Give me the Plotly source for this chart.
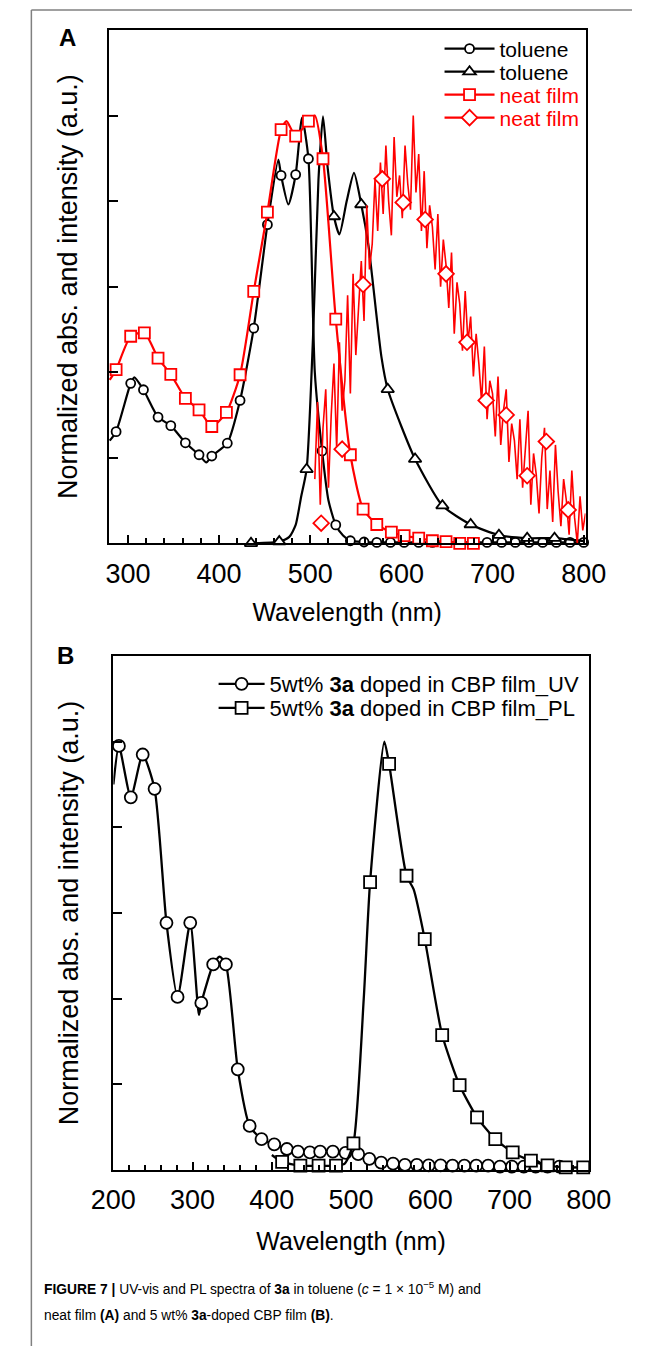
import plotly.graph_objects as go

# ================= Panel A data =================
# toluene absorption (circles) - marker points
tol_abs_x = [287, 303, 317, 333, 347, 363, 378, 392, 409, 423, 438, 453, 468, 484, 498, 513, 528,
             544, 559, 573, 588, 603, 619, 634, 649, 664, 679, 694, 710, 725, 740, 755, 770, 785, 800]
tol_abs_y = [0.261, 0.374, 0.359, 0.295, 0.275, 0.235, 0.207, 0.204, 0.234, 0.334, 0.503, 0.745, 0.860,
             0.862, 0.899, 0.216, 0.043, 0.006, 0.003, 0.002, 0.002, 0.002, 0.002, 0.002, 0.002, 0.002,
             0.002, 0.002, 0.002, 0.002, 0.002, 0.002, 0.002, 0.002, 0.002]
# extra points on the toluene absorption curve (peaks / dips)
tol_abs_ex = [280, 307, 386, 465, 476, 491, 505, 520, 536]
tol_abs_ey = [0.240, 0.388, 0.189, 0.897, 0.792, 0.995, 0.400, 0.100, 0.018]

# toluene PL (triangles)
tol_pl_x = [435, 466, 496, 526, 556, 585, 615, 645, 676, 707, 738, 768]
tol_pl_y = [0.000, 0.004, 0.173, 0.764, 0.792, 0.360, 0.197, 0.088, 0.044, 0.019, 0.012, 0.012]
tol_pl_ex = [477, 484, 490, 503, 509, 514, 519, 532, 540, 548, 564, 578, 600, 800]
tol_pl_ey = [0.015, 0.043, 0.109, 0.480, 0.850, 0.998, 0.880, 0.722, 0.800, 0.866, 0.694, 0.437, 0.273, 0.005]

# neat film absorption (squares)
film_abs_x = [287, 303, 318, 333, 347, 363, 378, 392, 408, 423, 438, 453, 468, 484, 498, 514, 528,
              544, 558, 573, 589, 603, 619, 634, 649, 664, 679]
film_abs_y = [0.406, 0.484, 0.492, 0.433, 0.395, 0.339, 0.312, 0.273, 0.306, 0.394, 0.589, 0.774, 0.967,
              0.952, 0.987, 0.899, 0.524, 0.207, 0.080, 0.044, 0.026, 0.018, 0.012, 0.006, 0.004, 0.000, 0.000]
film_abs_ex = [280, 474, 505]
film_abs_ey = [0.382, 0.987, 1.000]

# neat film PL (noisy trace) and its diamond markers
film_pl_x = [505, 508, 511, 514, 517, 520, 523, 526, 529, 532, 535, 538, 541, 544, 547, 550, 553, 556, 559, 562,
             565, 568, 571, 574, 577, 580, 583, 586, 589, 592, 595, 598, 601, 604, 607, 610, 613, 616, 619, 622,
             625, 628, 631, 634, 637, 640, 643, 646, 649, 652, 655, 658, 661, 664, 667, 670, 673, 676, 679, 682,
             685, 688, 691, 694, 697, 700, 703, 706, 709, 712, 715, 718, 721, 724, 727, 730, 733, 736, 739, 742,
             745, 748, 751, 754, 757, 760, 763, 766, 769, 772, 775, 778, 781, 784, 787, 790, 793, 796, 799, 802]
film_pl_y = [0.15, 0.33, 0.09, 0.27, 0.36, 0.13, 0.30, 0.42, 0.22, 0.47, 0.31, 0.38, 0.58, 0.35, 0.63, 0.44, 0.55, 0.66, 0.52, 0.79,
             0.64, 0.70, 0.85, 0.73, 0.89, 0.77, 0.93, 0.80, 0.72, 0.95, 0.81, 0.86, 0.76, 0.93, 0.84, 0.78, 1.00, 0.82, 0.91, 0.73,
             0.87, 0.69, 0.79, 0.74, 0.64, 0.77, 0.60, 0.71, 0.65, 0.55, 0.68, 0.49, 0.61, 0.56, 0.45, 0.59, 0.47, 0.53, 0.39, 0.49,
             0.42, 0.33, 0.46, 0.29, 0.38, 0.35, 0.25, 0.39, 0.23, 0.31, 0.36, 0.19, 0.28, 0.24, 0.15, 0.29, 0.13, 0.22, 0.31, 0.09,
             0.21, 0.16, 0.07, 0.20, 0.27, 0.08, 0.17, 0.05, 0.23, 0.12, 0.04, 0.15, 0.10, 0.02, 0.17, 0.06, 0.00, 0.11, 0.03, 0.07]
film_pl_mx = [512, 535, 558, 579, 602, 626, 649, 672, 693, 715, 738, 759, 783]
film_pl_my = [0.047, 0.220, 0.605, 0.852, 0.797, 0.757, 0.630, 0.470, 0.334, 0.300, 0.158, 0.238, 0.078]

# ================= Panel B data =================
uv_x = [207, 222, 237, 252, 267, 281, 297, 311, 326, 342, 357, 372, 387, 403, 419, 433, 448, 461, 477, 493,
        509, 523, 538, 553, 568, 583, 598, 613, 628, 643, 658, 673, 688, 703, 718, 733, 748, 763]
uv_y = [0.990, 0.870, 0.970, 0.890, 0.577, 0.404, 0.577, 0.390, 0.480, 0.480, 0.235, 0.103, 0.072, 0.060,
        0.049, 0.043, 0.041, 0.043, 0.043, 0.040, 0.037, 0.026, 0.017, 0.015, 0.012, 0.012, 0.011, 0.011,
        0.010, 0.010, 0.010, 0.010, 0.008, 0.008, 0.008, 0.008, 0.008, 0.008]
uv_ex = [200, 308, 334]
uv_ey = [0.900, 0.362, 0.498]

pl_x = [413, 436, 459, 481, 503, 524, 548, 570, 593, 615, 637, 659, 682, 704, 727, 748, 771, 793]
pl_y = [0.019, 0.010, 0.010, 0.010, 0.062, 0.672, 0.948, 0.687, 0.539, 0.315, 0.198, 0.123, 0.072, 0.041,
        0.022, 0.011, 0.006, 0.006]
pl_ex = [400, 492, 516, 542, 579, 800]
pl_ey = [0.035, 0.015, 0.400, 1.000, 0.655, 0.006]

legend_a = ["toluene", "toluene", "neat film", "neat film"]
legend_b = ["5wt% <b>3a</b> doped in CBP film_UV", "5wt% <b>3a</b> doped in CBP film_PL"]

FONT = "Liberation Sans, Arial, sans-serif"
RED = "#ff0000"
BLACK = "#000000"


def merged(mx, my, ex, ey):
    pts = sorted(zip(list(mx) + list(ex), list(my) + list(ey)))
    return [p[0] for p in pts], [p[1] for p in pts]


fig = go.Figure()


def add_series(mx, my, ex, ey, color, symbol, msize, lw, xa, ya, name, legend,
               spline=True, line_x=None, line_y=None):
    if line_x is None:
        lx, ly = merged(mx, my, ex, ey)
    else:
        lx, ly = line_x, line_y
    fig.add_trace(go.Scatter(
        x=lx, y=ly, mode="lines", xaxis=xa, yaxis=ya, showlegend=False, hoverinfo="skip",
        line=dict(color=color, width=lw, shape="spline" if spline else "linear", smoothing=0.6),
        cliponaxis=False))
    fig.add_trace(go.Scatter(
        x=mx, y=my, mode="markers", xaxis=xa, yaxis=ya, showlegend=False,
        marker=dict(symbol=symbol, size=msize, color="white", line=dict(color=color, width=1.8)),
        cliponaxis=False))
    fig.add_trace(go.Scatter(
        x=[None], y=[None], mode="lines+markers", xaxis=xa, yaxis=ya, name=name, legend=legend,
        line=dict(color=color, width=2.2),
        marker=dict(symbol=symbol, size=msize, color="white", line=dict(color=color, width=1.8))))


# Panel A
add_series(tol_abs_x, tol_abs_y, tol_abs_ex, tol_abs_ey, BLACK, "circle", 9, 2.2, "x", "y", legend_a[0], "legend")
add_series(tol_pl_x, tol_pl_y, tol_pl_ex, tol_pl_ey, BLACK, "triangle-up", 11, 2.2, "x", "y", legend_a[1], "legend2")
add_series(film_abs_x, film_abs_y, film_abs_ex, film_abs_ey, RED, "square", 11, 2.2, "x", "y", legend_a[2], "legend3")
add_series(film_pl_mx, film_pl_my, [], [], RED, "diamond", 12, 1.6, "x", "y", legend_a[3], "legend4",
           spline=False, line_x=film_pl_x, line_y=film_pl_y)

# Panel B
add_series(uv_x, uv_y, uv_ex, uv_ey, BLACK, "circle", 12, 2.3, "x2", "y2", legend_b[0], "legend5")
add_series(pl_x, pl_y, pl_ex, pl_ey, BLACK, "square", 12, 2.3, "x2", "y2", legend_b[1], "legend6")

W, H = 655, 1346


def px(x):
    return x / W


def py(y):
    return 1 - y / H


axis_common = dict(showline=True, mirror=True, linecolor="black", linewidth=2, ticks="inside",
                   tickcolor="black", tickwidth=2, showgrid=False, zeroline=False)
xaxis_common = dict(axis_common, ticklen=8, dtick=100, tick0=0,
                    tickfont=dict(family=FONT, size=27, color="black"),
                    minor=dict(dtick=20, ticks="inside", ticklen=5, tickwidth=1.5, tickcolor="black"),
                    ticklabelstandoff=5)
yaxis_common = dict(axis_common, ticklen=9, tickvals=[0.2, 0.4, 0.6, 0.8, 1.0], showticklabels=False,
                    range=[0, 1.2])

ytitle = "Normalized abs. and intensity (a.u.)"
xtitle = "Wavelength (nm)"


def legend_cfg(x, y, color, width, size):
    return dict(x=px(x), y=py(y), xanchor="left", yanchor="middle", bgcolor="rgba(0,0,0,0)",
                borderwidth=0, itemwidth=width, font=dict(family=FONT, size=size, color=color))


fig.update_layout(
    width=W, height=H, margin=dict(l=0, r=0, t=0, b=0),
    paper_bgcolor="white", plot_bgcolor="white",
    font=dict(family=FONT, color="black"),
    xaxis=dict(xaxis_common, domain=[px(92.3), px(605)], range=[279, 802], anchor="y",
               title=dict(text=xtitle, font=dict(family=FONT, size=25), standoff=16)),
    yaxis=dict(yaxis_common, domain=[py(543.3), py(30)], anchor="x",
               title=dict(text=ytitle, font=dict(family=FONT, size=27), standoff=21)),
    xaxis2=dict(xaxis_common, domain=[px(97.2), px(608.5)], range=[200, 800], anchor="y2",
                title=dict(text=xtitle, font=dict(family=FONT, size=25), standoff=18)),
    yaxis2=dict(yaxis_common, domain=[py(1170), py(656)], anchor="x2",
                title=dict(text=ytitle, font=dict(family=FONT, size=27), standoff=25)),
    legend=legend_cfg(448, 49, BLACK, 50, 21),
    legend2=legend_cfg(448, 72, BLACK, 50, 21),
    legend3=legend_cfg(448, 95, RED, 50, 21),
    legend4=legend_cfg(448, 118, RED, 50, 21),
    legend5=legend_cfg(205, 684, BLACK, 46, 22),
    legend6=legend_cfg(205, 708, BLACK, 46, 22),
    showlegend=True,
)

# panel letters
fig.add_annotation(text="<b>A</b>", x=px(48), y=py(37), xref="paper", yref="paper", showarrow=False,
                   xanchor="center", yanchor="middle", font=dict(family=FONT, size=24, color="black"))
fig.add_annotation(text="<b>B</b>", x=px(46), y=py(655), xref="paper", yref="paper", showarrow=False,
                   xanchor="center", yanchor="middle", font=dict(family=FONT, size=24, color="black"))

# caption
CAP_FONT = "Liberation Sans Narrow, Arial Narrow, Liberation Sans, sans-serif"
fig.add_annotation(
    text="<b>FIGURE 7 |</b> UV-vis and PL spectra of <b>3a</b> in toluene (<i>c</i> = 1 × 10<sup>−5</sup> M) and",
    x=px(20), y=py(1288), xref="paper", yref="paper", xanchor="left", yanchor="middle", showarrow=False,
    font=dict(family=CAP_FONT, size=13.8, color="black"))
fig.add_annotation(
    text="neat film <b>(A)</b> and 5 wt% <b>3a</b>-doped CBP film <b>(B)</b>.",
    x=px(20), y=py(1315), xref="paper", yref="paper", xanchor="left", yanchor="middle", showarrow=False,
    font=dict(family=CAP_FONT, size=13.8, color="black"))

# outer frame (left and top edges)
fig.add_shape(type="line", xref="paper", yref="paper", x0=px(9), y0=py(10), x1=1, y1=py(10),
              line=dict(color="#808080", width=1.5))
fig.add_shape(type="line", xref="paper", yref="paper", x0=px(9), y0=py(10), x1=px(9), y1=0,
              line=dict(color="#808080", width=1.5))

fig.write_html("out.html")
